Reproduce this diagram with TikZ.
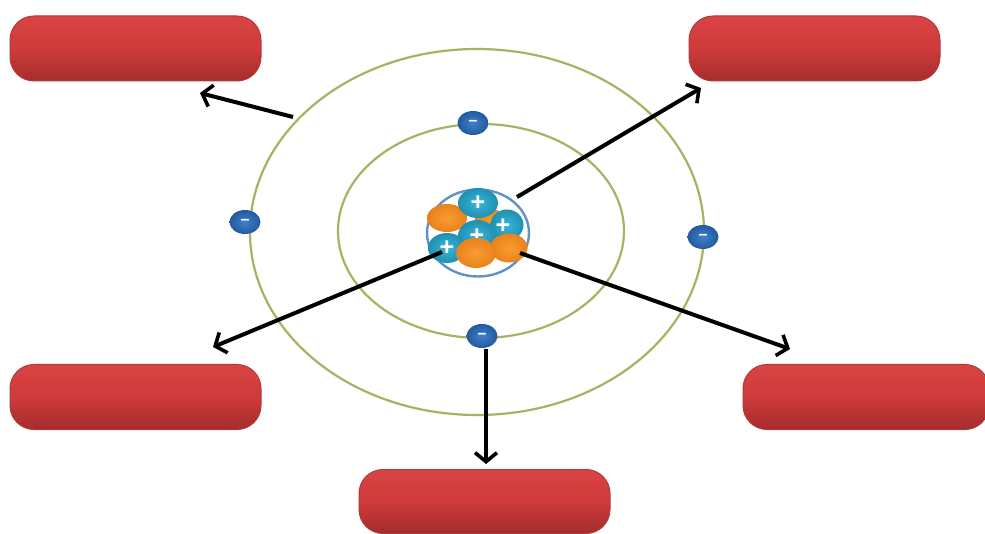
\documentclass[tikz,border=0pt]{standalone}
\usepackage{fontspec}
\setmainfont{Liberation Sans}
\usetikzlibrary{arrows.meta,shapes.geometric}
\definecolor{orbitgreen}{HTML}{A3B463}
\definecolor{rimblue}{HTML}{5E93C4}
\definecolor{boxedge}{HTML}{B23A3A}
\definecolor{boxtop}{HTML}{D94343}
\definecolor{boxmid}{HTML}{CE3B3B}
\definecolor{boxbottom}{HTML}{A52C2C}
\definecolor{protonmid}{HTML}{38B6DA}
\definecolor{protonrim}{HTML}{2090B0}
\definecolor{neutronmid}{HTML}{F89C30}
\definecolor{neutronrim}{HTML}{E9821C}
\definecolor{electronmid}{HTML}{3F80CC}
\definecolor{electronrim}{HTML}{235A9E}
\newcommand{\minussign}{\raisebox{-2pt}{–}}
\tikzset{
  labelbox/.style={draw=boxedge,line width=1pt,rounded corners=24pt,minimum width=251pt,minimum height=65pt,
    inner sep=0pt,top color=boxtop,bottom color=boxbottom,middle color=boxmid},
  orbit/.style={draw=orbitgreen,line width=2.2pt},
  proton/.style={ellipse,inner sep=0pt,text=white,font=\bfseries\fontsize{25}{25}\selectfont,
    inner color=protonmid,outer color=protonrim},
  neutron/.style={ellipse,inner sep=0pt,inner color=neutronmid,outer color=neutronrim},
  electron/.style={ellipse,minimum width=31pt,minimum height=24pt,inner sep=0pt,text=white,
    font=\bfseries\fontsize{16}{16}\selectfont,inner color=electronmid,outer color=electronrim},
  pointer/.style={draw=black,line width=4pt,-{Straight Barb[length=9pt,width=22pt,line width=3.6pt]}},
}
\begin{document}
\begin{tikzpicture}[x=1pt,y=-1pt]
  \useasboundingbox (0,0) rectangle (985,534);
  \fill[white] (0,0) rectangle (985,534);

  % label boxes
  \node[labelbox] (boxTL) at (135.5,48.5) {};
  \node[labelbox] (boxTR) at (814.5,48.5) {};
  \node[labelbox] (boxBL) at (135.5,397) {};
  \node[labelbox,minimum width=246pt] (boxBR) at (866,397) {};
  \node[labelbox,minimum height=64pt] (boxB) at (484.5,501.5) {};

  % electron shells
  \draw[orbit] (477,232) ellipse [x radius=227,y radius=183];
  \draw[orbit] (481,231) ellipse [x radius=143,y radius=107];

  % nucleus
  \node[ellipse,draw=rimblue,fill=white,line width=2.4pt,minimum width=102pt,minimum height=87pt,inner sep=0pt] (nucleus) at (478,233) {};
  \node[neutron,minimum width=30pt,minimum height=22pt] (n1) at (490,220) {};
  \node[proton,minimum width=33pt,minimum height=31pt] (p1) at (507,225) {};
  \node[text=white,font=\bfseries\fontsize{25}{25}\selectfont,inner sep=0pt] (p1s) at (503,226) {+};
  \node[neutron,minimum width=40pt,minimum height=28pt] (n2) at (447,218) {};
  \node[proton,minimum width=40pt,minimum height=30pt] (p2) at (478,203) {+};
  \node[proton,minimum width=38pt,minimum height=32pt] (p3) at (477,236) {+};
  \node[proton,minimum width=38pt,minimum height=30pt] (p4) at (447,248) {+};
  \node[neutron,minimum width=37pt,minimum height=29pt] (n3) at (509,248) {};
  \node[neutron,minimum width=40pt,minimum height=30pt] (n4) at (476,253) {};

  % electrons
  \node[electron] (e1) at (473,123) {\minussign};
  \node[electron] (e2) at (245,222) {\minussign};
  \node[electron] (e3) at (703,237) {\minussign};
  \node[electron] (e4) at (482,336) {\minussign};

  % pointer ends
  \coordinate (a1s) at (293,117);
  \coordinate (a1e) at (200,93);
  \coordinate (a2s) at (517,197);
  \coordinate (a2e) at (701,88);
  \coordinate (a3s) at (442,252);
  \coordinate (a3e) at (213,347);
  \coordinate (a4s) at (520,253);
  \coordinate (a4e) at (790,349);
  \coordinate (a5s) at (486,349);
  \coordinate (a5e) at (486,464);

  % pointers
  \draw[pointer] (a1s) -- (a1e);
  \draw[pointer] (a2s) -- (a2e);
  \draw[pointer] (a3s) -- (a3e);
  \draw[pointer] (a4s) -- (a4e);
  \draw[pointer] (a5s) -- (a5e);
\end{tikzpicture}
\end{document}
